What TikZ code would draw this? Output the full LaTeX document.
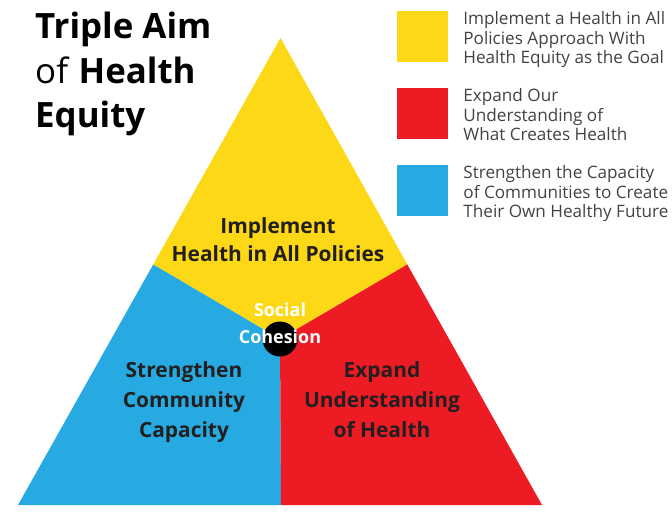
\documentclass[tikz,border=0pt]{standalone}
\usepackage{fontspec}
\setmainfont{Open Sans}
\usepackage{tikz}
\usetikzlibrary{positioning,calc}

\definecolor{aimyellow}{HTML}{FDD817}
\definecolor{aimred}{HTML}{ED1C24}
\definecolor{aimblue}{HTML}{27AAE1}
\definecolor{aimtext}{HTML}{231F20}

\tikzset{
  legbox/.style={rectangle, minimum width=51bp, minimum height=51bp, inner sep=0pt},
  legtext/.style={anchor=base west, align=left, inner sep=0pt, text=aimtext!85,
    font=\fontsize{17.2}{19.3}\selectfont},
  parttext/.style={anchor=base, align=center, inner sep=0pt, text=aimtext,
    font=\bfseries\fontsize{21}{30}\selectfont}
}

\begin{document}
\begin{tikzpicture}[x=1bp, y=-1bp, node distance=77bp]
    \useasboundingbox (0,0) rectangle (672,512);

    % triangle corners and split points
    \coordinate (apex) at (280.5,38);
    \coordinate (botleft) at (18,505);
    \coordinate (botright) at (542,505);
    \coordinate (botmid) at (281,505);
    \coordinate (hub) at (280,339);
    \coordinate (leftsplit) at ($(apex)!0.485!(botleft)$);
    \coordinate (rightsplit) at ($(apex)!0.485!(botright)$);

    \fill [aimyellow] (apex) -- (rightsplit) -- (hub) -- (leftsplit) -- cycle;
    \fill [aimblue] (leftsplit) -- (hub) -- (botmid) -- (botleft) -- cycle;
    \fill [aimred] (rightsplit) -- (botright) -- (botmid) -- (hub) -- cycle;
    \fill [black] (hub) circle (17.5bp);

    % title (anchored on its last line)
    \node [anchor=base west, align=left, inner sep=0pt, text=black,
           font=\fontsize{35}{45}\selectfont] (title) at (35,128)
          {\textbf{Triple Aim}\\of \textbf{Health}\\\textbf{Equity}};

    % legend
    \node [legbox, fill=aimyellow] (keypolicy) at (422.5,36.5) {};
    \node [legbox, fill=aimred, below of=keypolicy] (keyexpand) {};
    \node [legbox, fill=aimblue, below of=keyexpand] (keycommunity) {};

    \node [legtext] (policytext) at ([xshift=15bp, yshift=-52.6bp]keypolicy.north east)
          {Implement a Health in All\\Policies Approach With\\Health Equity as the Goal};
    \node [legtext] (expandtext) at ([xshift=15bp, yshift=-52.6bp]keyexpand.north east)
          {Expand Our\\Understanding of\\What Creates Health};
    \node [legtext] (communitytext) at ([xshift=15bp, yshift=-52.6bp]keycommunity.north east)
          {Strengthen the Capacity\\of Communities to Create\\Their Own Healthy Future};

    % labels inside the triangle
    \node [parttext, font=\bfseries\fontsize{21}{29}\selectfont] (policylabel) at (278,262)
          {Implement\\Health in All Policies};
    \node [parttext, text=white, font=\bfseries\fontsize{18}{27}\selectfont] (cohesion) at (280,343)
          {Social\\Cohesion};
    \node [parttext] (communitylabel) at (184,437)
          {Strengthen\\Community\\Capacity};
    \node [parttext] (expandlabel) at (382,437)
          {Expand\\Understanding\\of Health};
\end{tikzpicture}
\end{document}
